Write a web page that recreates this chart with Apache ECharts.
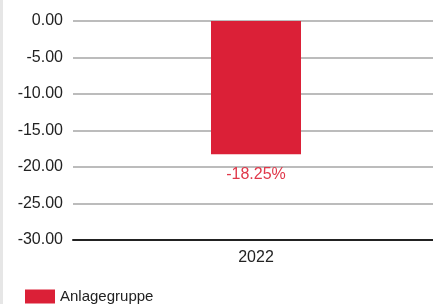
<!DOCTYPE html>
<html>
<head>
<meta charset="utf-8">
<script src="https://cdn.jsdelivr.net/npm/echarts@6/dist/echarts.min.js"></script>
<style>
  html, body { margin: 0; padding: 0; background: #fff; overflow: hidden; }
  /* chart is a bit wider than the window: the plot runs past the right edge */
  #chart { width: 439px; height: 304px; }
</style>
</head>
<body>
<div id="chart"></div>
<script>
  var categories = ['2022'];
  var seriesName = 'Anlagegruppe';
  var values = [-18.25];

  var myChart = echarts.init(document.getElementById('chart'));
  myChart.setOption({
    animation: false,
    textStyle: { fontFamily: 'Liberation Sans, Arial, sans-serif' },
    graphic: [{
      type: 'rect',
      left: 0, top: 0,
      shape: { width: 3, height: 304 },
      style: { fill: '#e6e6e6' }
    }],
    grid: { left: 73, right: 0, top: 21, height: 219 },
    legend: {
      left: 20, top: 284,
      itemWidth: 30, itemHeight: 14, itemGap: 8,
      icon: 'rect',
      textStyle: { fontSize: 15, color: '#222' },
      data: [seriesName]
    },
    xAxis: {
      type: 'category',
      data: categories,
      axisLine: { onZero: false, lineStyle: { color: '#222', width: 2 } },
      axisTick: { alignWithLabel: true, length: 3, lineStyle: { color: '#222', width: 2 } },
      axisLabel: { fontSize: 16, color: '#222', margin: 10 },
      splitLine: { show: false }
    },
    yAxis: {
      type: 'value',
      min: -30, max: 0, interval: 5,
      axisLabel: {
        fontSize: 16, color: '#222', margin: 10,
        formatter: function (v) { return v.toFixed(2); }
      },
      axisLine: { show: false },
      axisTick: { show: false },
      splitLine: { lineStyle: { color: '#a6a6a6', width: 1.5 } }
    },
    series: [{
      name: seriesName,
      type: 'bar',
      data: values,
      barWidth: 90,
      itemStyle: { color: '#db2037' },
      label: {
        show: true,
        position: 'bottom',
        distance: 12,
        fontSize: 16,
        color: '#e0384a',
        formatter: function (p) { return p.value.toFixed(2) + '%'; }
      }
    }]
  });
</script>
</body>
</html>
